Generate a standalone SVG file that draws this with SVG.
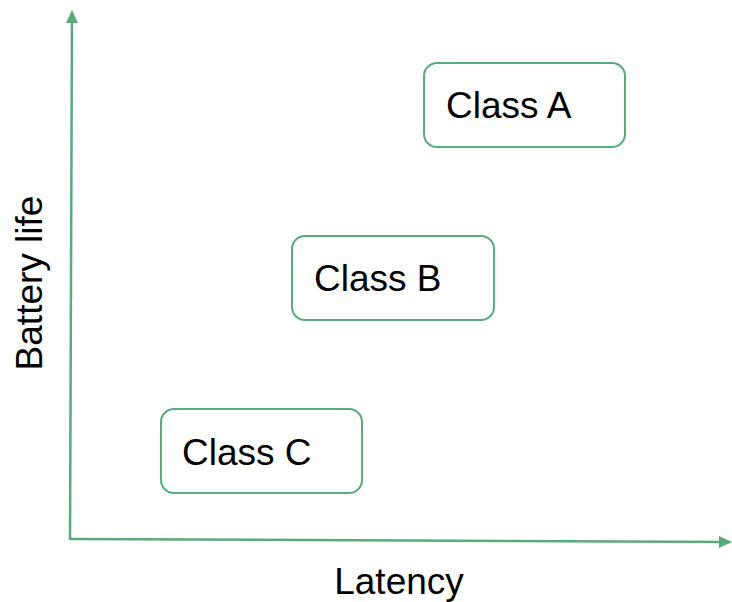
<svg xmlns="http://www.w3.org/2000/svg" width="732" height="602" viewBox="0 0 732 602">
<style>
.box{fill:#fff;stroke:#5aab7b;stroke-width:2}
.lbl{font-family:"Liberation Sans",Arial,sans-serif;font-size:37px;fill:#000}
.axis{stroke:#5aab7b;stroke-width:2.5;fill:none}
</style>
<defs>
<marker id="ah" markerWidth="13" markerHeight="12" refX="11" refY="6" orient="auto" markerUnits="userSpaceOnUse">
<path d="M0,0 L13,6 L0,12 Z" fill="#5aab7b"/>
</marker>
</defs>
<g id="connectors">
<line class="axis" x1="70" y1="540" x2="72" y2="12" marker-end="url(#ah)"/>
<line class="axis" x1="70" y1="539" x2="730" y2="542" marker-end="url(#ah)"/>
</g>
<g id="classA">
<rect class="box" x="424" y="63" width="201" height="84" rx="13"/>
<text class="lbl" x="446" y="118">Class A</text>
</g>
<g id="classB">
<rect class="box" x="292" y="236" width="202" height="84" rx="13"/>
<text class="lbl" x="314" y="291">Class B</text>
</g>
<g id="classC">
<rect class="box" x="161" y="409" width="201" height="84" rx="13"/>
<text class="lbl" x="182" y="465">Class C</text>
</g>
<g id="yLabel">
<text class="lbl" transform="translate(42,283) rotate(-90)" text-anchor="middle">Battery life</text>
</g>
<g id="xLabel">
<text class="lbl" x="399" y="594" text-anchor="middle">Latency</text>
</g>
</svg>
